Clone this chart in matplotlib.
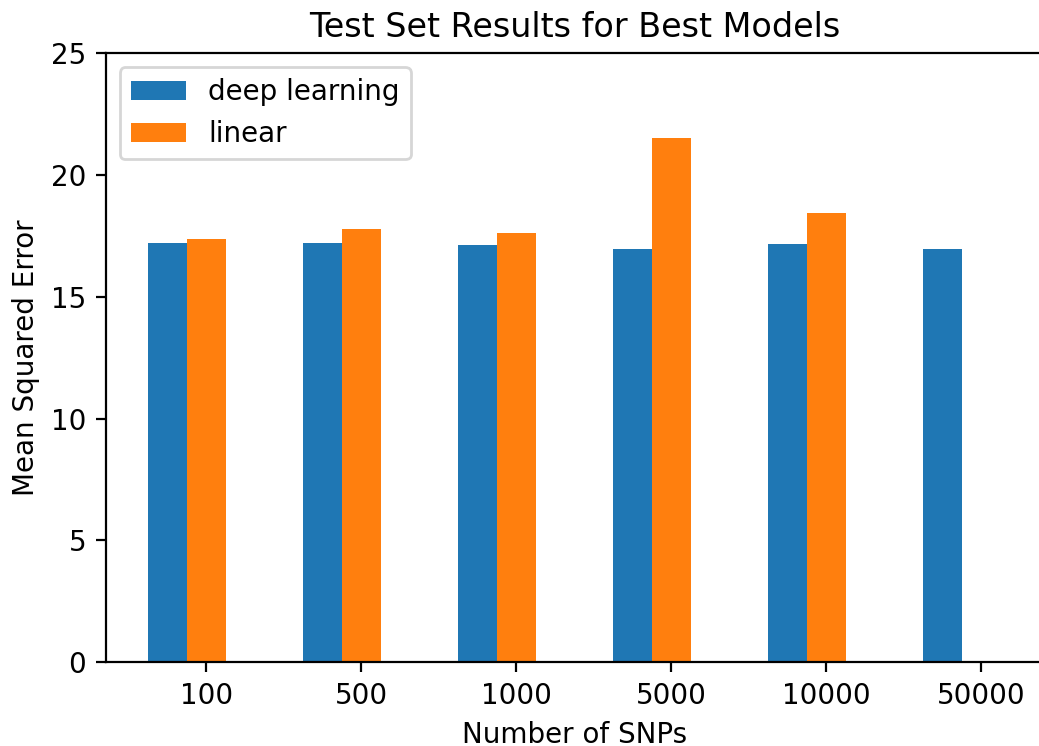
import numpy as np
import matplotlib
matplotlib.use("Agg")
import matplotlib.pyplot as plt

# Number of SNPs used as input features
snp_labels = ["100", "500", "1000", "5000", "10000", "50000"]

# Test-set mean squared error of the best model of each kind
deep_learning_mse = [17.20, 17.20, 17.12, 16.95, 17.16, 16.95]
linear_mse = [17.36, 17.78, 17.61, 21.51, 18.43, 0.0]

fig = plt.figure(figsize=(1039 / 200, 746 / 200), dpi=200)
ax = fig.add_axes([0.1017, 0.1122, 0.9026, 0.8164])

x = np.arange(len(snp_labels))
width = 0.25
ax.bar(x - width, deep_learning_mse, width, color="tab:blue", label="deep learning")
ax.bar(x, linear_mse, width, color="tab:orange", label="linear")

ax.set_xticks(x)
ax.set_xticklabels(snp_labels)
ax.set_ylim(0, 25)
ax.set_xlim(-0.65, 5.4)
ax.spines["right"].set_visible(False)

ax.set_title("Test Set Results for Best Models")
ax.set_xlabel("Number of SNPs")
ax.set_ylabel("Mean Squared Error")
ax.legend(loc="upper left")

fig.savefig("out.png", dpi=200)
